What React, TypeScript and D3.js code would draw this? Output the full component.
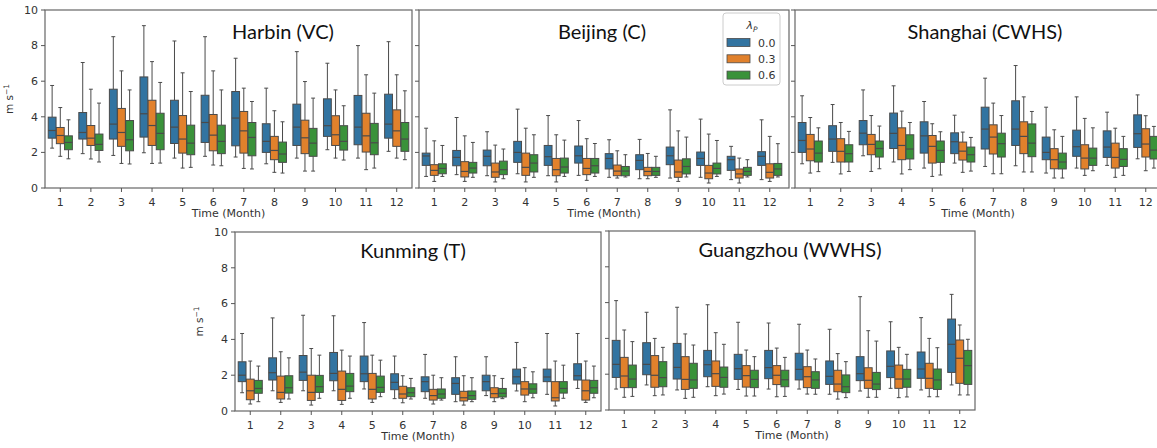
import React from "react";
import * as d3 from "d3";

const months = ["1", "2", "3", "4", "5", "6", "7", "8", "9", "10", "11", "12"];
const hues = ["0.0", "0.3", "0.6"];
const hueColors = ["#3274a1", "#e1812c", "#3a923a"];
const yTicks = [0, 2, 4, 6, 8, 10];

// each row: [lower whisker, Q1, median, Q3, upper whisker]
const harbin00 = [
  [2.24, 2.8, 3.23, 3.98, 5.76], [1.93, 2.75, 3.12, 4.24, 7.05], [1.83, 2.75, 3.59, 5.55, 8.5],
  [1.98, 2.86, 4.17, 6.24, 9.12], [1.68, 2.5, 3.42, 4.93, 8.26], [1.78, 2.56, 3.68, 5.21, 8.5],
  [1.74, 2.37, 3.93, 5.42, 7.29], [1.36, 2.0, 2.62, 3.61, 5.61], [1.68, 2.39, 3.42, 4.71, 7.66],
  [2.15, 2.9, 3.5, 5.01, 7.01], [1.68, 2.43, 3.42, 5.2, 8.0], [2.06, 2.8, 3.59, 5.27, 8.22],
];
const harbin03 = [
  [1.78, 2.49, 2.95, 3.4, 4.52], [1.63, 2.39, 2.8, 3.51, 5.55], [1.38, 2.34, 3.12, 4.47, 6.58],
  [1.38, 2.39, 3.51, 4.93, 7.1], [1.12, 1.96, 2.75, 4.07, 6.47], [1.29, 2.09, 2.97, 4.13, 6.58],
  [1.1, 1.96, 3.21, 4.3, 5.61], [0.88, 1.59, 2.11, 2.9, 4.34], [0.95, 1.93, 2.82, 3.81, 5.98],
  [1.68, 2.39, 2.99, 4.06, 5.51], [1.03, 2.02, 2.93, 4.2, 6.36], [1.68, 2.34, 3.21, 4.39, 6.36],
];
const harbin06 = [
  [1.64, 2.15, 2.56, 2.93, 3.83], [1.46, 2.11, 2.45, 3.03, 4.77], [1.35, 2.09, 2.71, 3.79, 5.51],
  [1.4, 2.15, 3.07, 4.2, 5.93], [1.16, 1.87, 2.52, 3.53, 5.42], [1.25, 1.93, 2.62, 3.53, 5.51],
  [1.07, 1.81, 2.84, 3.68, 4.86], [0.84, 1.44, 1.91, 2.58, 3.72], [0.95, 1.78, 2.52, 3.35, 5.05],
  [1.57, 2.13, 2.62, 3.5, 4.62], [1.12, 1.87, 2.54, 3.63, 5.33], [1.59, 2.06, 2.75, 3.68, 5.46],
];

const beijing00 = [
  [0.65, 1.27, 1.8, 1.96, 3.36], [0.75, 1.25, 1.72, 2.11, 3.96], [0.69, 1.25, 1.78, 2.13, 3.16],
  [0.8, 1.44, 2.0, 2.62, 4.43], [0.69, 1.27, 1.76, 2.39, 4.07], [0.71, 1.4, 1.81, 2.36, 3.79],
  [0.6, 1.07, 1.66, 1.93, 2.71], [0.52, 1.03, 1.55, 1.87, 2.73], [0.56, 1.31, 1.81, 2.3, 4.39],
  [0.6, 1.27, 1.66, 2.02, 3.87], [0.47, 0.99, 1.59, 1.78, 2.34], [0.47, 1.27, 1.78, 2.04, 3.83],
];
const beijing03 = [
  [0.37, 0.71, 0.99, 1.31, 2.65], [0.37, 0.62, 0.93, 1.48, 2.93], [0.34, 0.6, 0.9, 1.4, 2.41],
  [0.34, 0.71, 1.16, 1.96, 3.36], [0.34, 0.69, 1.03, 1.66, 2.99], [0.43, 0.75, 1.1, 1.66, 2.77],
  [0.56, 0.69, 0.95, 1.29, 2.09], [0.52, 0.69, 0.93, 1.16, 1.94], [0.37, 0.6, 0.9, 1.57, 3.21],
  [0.28, 0.52, 0.84, 1.27, 3.03], [0.28, 0.56, 0.79, 1.07, 1.68], [0.37, 0.56, 0.88, 1.36, 2.9],
];
const beijing06 = [
  [0.65, 0.8, 1.1, 1.36, 2.39], [0.6, 0.84, 1.12, 1.44, 2.56], [0.52, 0.75, 1.03, 1.51, 2.19],
  [0.6, 0.9, 1.4, 1.87, 2.99], [0.65, 0.84, 1.18, 1.68, 2.69], [0.65, 0.84, 1.25, 1.66, 2.5],
  [0.62, 0.69, 0.95, 1.21, 1.87], [0.6, 0.71, 0.93, 1.16, 1.78], [0.62, 0.79, 1.21, 1.64, 2.86],
  [0.65, 0.79, 1.1, 1.4, 2.67], [0.62, 0.71, 0.93, 1.16, 1.59], [0.62, 0.71, 1.07, 1.38, 2.49],
];

const shanghai00 = [
  [1.36, 2.0, 2.67, 3.68, 5.18], [1.44, 2.06, 2.75, 3.5, 4.69], [1.81, 2.43, 3.08, 3.79, 5.51],
  [1.46, 2.22, 3.07, 4.21, 5.74], [1.12, 1.96, 2.93, 3.72, 4.86], [1.4, 1.93, 2.6, 3.1, 4.09],
  [1.21, 2.19, 3.31, 4.54, 6.17], [1.25, 2.39, 3.31, 4.9, 6.88], [0.84, 1.59, 2.0, 2.86, 4.54],
  [1.12, 1.78, 2.32, 3.25, 5.12], [1.27, 1.72, 2.3, 3.21, 4.26], [1.64, 2.28, 3.05, 4.11, 5.23],
];
const shanghai03 = [
  [0.84, 1.53, 2.19, 3.01, 3.96], [0.79, 1.46, 2.06, 2.77, 3.68], [0.93, 1.87, 2.45, 3.01, 4.07],
  [0.79, 1.59, 2.39, 3.38, 4.32], [0.65, 1.4, 2.34, 2.95, 3.61], [0.88, 1.57, 2.07, 2.58, 3.14],
  [0.8, 1.91, 2.86, 3.55, 4.77], [0.9, 1.93, 2.9, 3.72, 5.12], [0.56, 1.08, 1.59, 2.21, 3.27],
  [0.71, 1.07, 1.68, 2.43, 3.91], [0.6, 1.12, 1.72, 2.52, 3.36], [0.97, 1.74, 2.47, 3.33, 4.06],
];
const shanghai06 = [
  [0.92, 1.46, 1.96, 2.64, 3.38], [0.93, 1.46, 1.93, 2.43, 3.18], [1.08, 1.74, 2.22, 2.64, 3.48],
  [1.03, 1.63, 2.19, 2.99, 3.68], [0.73, 1.44, 2.11, 2.64, 3.16], [0.95, 1.46, 1.87, 2.3, 2.84],
  [0.8, 1.74, 2.49, 3.08, 4.07], [0.9, 1.76, 2.52, 3.6, 4.3], [0.56, 1.07, 1.46, 1.96, 2.9],
  [0.97, 1.27, 1.68, 2.24, 3.38], [0.71, 1.21, 1.61, 2.21, 2.9], [1.12, 1.63, 2.13, 2.9, 3.46],
];

const kunming00 = [
  [1.02, 1.64, 2.0, 2.75, 4.33], [1.13, 1.73, 2.14, 2.97, 5.2], [1.13, 1.71, 2.17, 3.1, 5.35],
  [1.13, 1.69, 2.1, 3.27, 5.32], [1.23, 1.64, 2.08, 3.07, 4.94], [0.69, 1.19, 1.6, 2.08, 3.07],
  [0.71, 1.08, 1.64, 1.91, 3.16], [0.52, 0.93, 1.54, 1.86, 3.03], [0.86, 1.13, 1.64, 2.0, 3.03],
  [1.12, 1.51, 1.91, 2.34, 3.83], [0.93, 1.64, 1.9, 2.34, 4.33], [1.26, 1.73, 1.97, 2.64, 4.33],
];
const kunming03 = [
  [0.39, 0.63, 1.13, 1.78, 2.79], [0.48, 0.67, 1.04, 1.95, 3.31], [0.33, 0.59, 1.04, 2.0, 3.49],
  [0.37, 0.59, 1.21, 2.23, 3.4], [0.48, 0.67, 1.21, 2.1, 3.12], [0.46, 0.71, 0.95, 1.38, 1.97],
  [0.39, 0.61, 0.86, 1.21, 2.0], [0.33, 0.56, 0.74, 1.1, 1.97], [0.52, 0.74, 0.97, 1.3, 1.97],
  [0.52, 0.89, 1.23, 1.64, 2.42], [0.28, 0.56, 0.74, 1.64, 2.79], [0.48, 0.61, 1.13, 1.73, 2.79],
];
const kunming06 = [
  [0.52, 0.99, 1.26, 1.71, 2.51], [0.67, 1.0, 1.3, 1.97, 2.97], [0.71, 1.04, 1.36, 1.99, 3.12],
  [0.71, 1.08, 1.39, 2.1, 3.07], [0.8, 1.04, 1.32, 1.95, 2.84], [0.67, 0.8, 1.02, 1.3, 1.82],
  [0.61, 0.71, 0.95, 1.23, 1.86], [0.52, 0.65, 0.86, 1.12, 1.86], [0.69, 0.78, 0.99, 1.26, 1.82],
  [0.74, 0.99, 1.23, 1.52, 2.19], [0.71, 1.0, 1.26, 1.64, 2.56], [0.74, 0.99, 1.3, 1.71, 2.51],
];

const guangzhou00 = [
  [1.17, 1.82, 2.55, 3.89, 6.11], [1.4, 1.97, 2.55, 3.76, 5.46], [1.12, 1.73, 2.38, 3.72, 5.74],
  [1.3, 1.86, 2.53, 3.33, 5.88], [1.15, 1.71, 2.31, 3.11, 4.9], [1.17, 1.75, 2.37, 3.33, 4.86],
  [1.17, 1.68, 2.27, 3.17, 4.79], [0.88, 1.43, 1.88, 2.74, 4.51], [1.06, 1.64, 2.03, 2.98, 6.33],
  [1.21, 1.81, 2.44, 3.3, 4.93], [1.12, 1.77, 2.29, 3.24, 5.16], [1.4, 2.1, 3.67, 5.08, 6.46],
];
const guangzhou03 = [
  [0.71, 1.25, 1.9, 2.94, 4.47], [0.8, 1.27, 1.94, 3.04, 4.0], [0.65, 1.15, 1.71, 2.98, 4.25],
  [0.8, 1.32, 2.03, 2.74, 4.32], [0.78, 1.28, 1.92, 2.48, 3.35], [0.74, 1.42, 1.94, 2.48, 3.46],
  [0.89, 1.25, 1.86, 2.42, 3.35], [0.61, 1.02, 1.45, 2.22, 3.15], [0.71, 1.21, 1.66, 2.36, 4.43],
  [0.69, 1.21, 1.73, 2.51, 3.5], [0.74, 1.21, 1.77, 2.61, 4.0], [0.84, 1.49, 2.89, 3.91, 4.75],
];
const guangzhou06 = [
  [0.76, 1.25, 1.73, 2.51, 3.82], [0.84, 1.3, 1.81, 2.7, 3.5], [0.71, 1.21, 1.68, 2.61, 3.63],
  [0.89, 1.27, 1.82, 2.4, 3.67], [0.78, 1.25, 1.71, 2.22, 2.98], [0.76, 1.3, 1.69, 2.22, 2.94],
  [0.88, 1.21, 1.68, 2.14, 2.85], [0.69, 0.97, 1.3, 1.96, 2.7], [0.71, 1.14, 1.45, 2.1, 3.85],
  [0.73, 1.27, 1.73, 2.27, 3.11], [0.74, 1.15, 1.68, 2.29, 3.48], [0.84, 1.43, 2.48, 3.33, 3.95],
];

const panels = [
  { title: "Harbin (VC)", data: [harbin00, harbin03, harbin06], x0: 45, x1: 412, bx1: 412, y0: 10, y1: 188, tx: 283, ty: 39, yLabels: true, legend: false },
  { title: "Beijing (C)", data: [beijing00, beijing03, beijing06], x0: 419, x1: 789, bx1: 785, y0: 10, y1: 188, tx: 602, ty: 39, yLabels: false, legend: true },
  { title: "Shanghai (CWHS)", data: [shanghai00, shanghai03, shanghai06], x0: 795, x1: 1161, bx1: 1161, y0: 10, y1: 188, tx: 985, ty: 39, yLabels: false, legend: false },
  { title: "Kunming (T)", data: [kunming00, kunming03, kunming06], x0: 235, x1: 601, bx1: 601, y0: 232, y1: 411, tx: 413, ty: 258, yLabels: true, legend: false },
  { title: "Guangzhou (WWHS)", data: [guangzhou00, guangzhou03, guangzhou06], x0: 609, x1: 975, bx1: 975, y0: 231, y1: 410, tx: 790, ty: 257, yLabels: false, legend: false },
];

const LINE = "#4a4a4a";
const TXT = "#333";
const FONT = "'DejaVu Sans', sans-serif";

function Panel({ p }: { p: any }) {
  const x = d3.scaleBand().domain(months).range([p.x0, p.bx1]);
  const bw = x.bandwidth();
  const xh = d3.scaleBand().domain(hues).range([0.1 * bw, 0.9 * bw]);
  const boxW = xh.bandwidth() * 0.96;
  const y = d3.scaleLinear().domain([0, 10]).range([p.y1, p.y0]);
  const ymid = (p.y0 + p.y1) / 2;
  const xmid = (p.x0 + p.x1) / 2;
  return (
    <g>
      <rect x={p.x0} y={p.y0} width={p.x1 - p.x0} height={p.y1 - p.y0} fill="white" stroke="#666" strokeWidth={1.2} />
      {yTicks.map((t) => (
        <g key={"yt" + t}>
          <line x1={p.x0 - 4} x2={p.x0} y1={y(t)} y2={y(t)} stroke="#555" strokeWidth={1} />
          {p.yLabels && (
            <text x={p.x0 - 7} y={y(t)} dy="0.35em" textAnchor="end" fontSize={11} fill={TXT} fontFamily={FONT}>{t}</text>
          )}
        </g>
      ))}
      {p.yLabels && (
        <text transform={`translate(${p.x0 - 32},${ymid}) rotate(-90)`} textAnchor="middle" fontSize={10.5} fill={TXT} fontFamily={FONT}>
          m s<tspan dy="-4" fontSize={7.5}>−1</tspan>
        </text>
      )}
      {months.map((m) => (
        <g key={"xt" + m}>
          <line x1={x(m)! + bw / 2} x2={x(m)! + bw / 2} y1={p.y1} y2={p.y1 + 4} stroke="#555" strokeWidth={1} />
          <text x={x(m)! + bw / 2} y={p.y1 + 17.5} textAnchor="middle" fontSize={11} fill={TXT} fontFamily={FONT}>{m}</text>
        </g>
      ))}
      <text x={xmid} y={p.y1 + 29} textAnchor="middle" fontSize={11} fill={TXT} fontFamily={FONT}>Time (Month)</text>
      {p.data.map((series: number[][], hi: number) =>
        series.map((d, mi) => {
          const cx = x(months[mi])! + xh(hues[hi])! + xh.bandwidth() / 2;
          const [lo, q1, med, q3, up] = d;
          const capW = boxW / 2;
          return (
            <g key={`b${hi}-${mi}`}>
              <line x1={cx} x2={cx} y1={y(up)} y2={y(q3)} stroke={LINE} strokeWidth={1} />
              <line x1={cx} x2={cx} y1={y(q1)} y2={y(lo)} stroke={LINE} strokeWidth={1} />
              <line x1={cx - capW / 2} x2={cx + capW / 2} y1={y(up)} y2={y(up)} stroke={LINE} strokeWidth={1} />
              <line x1={cx - capW / 2} x2={cx + capW / 2} y1={y(lo)} y2={y(lo)} stroke={LINE} strokeWidth={1} />
              <rect x={cx - boxW / 2} y={y(q3)} width={boxW} height={y(q1) - y(q3)} fill={hueColors[hi]} stroke={LINE} strokeWidth={1} />
              <line x1={cx - boxW / 2} x2={cx + boxW / 2} y1={y(med)} y2={y(med)} stroke={LINE} strokeWidth={1.2} />
            </g>
          );
        })
      )}
      <text x={p.tx} y={p.ty} textAnchor="middle" fontSize={20} fill="#111" fontFamily="Lato, 'Open Sans', sans-serif">{p.title}</text>
      {p.legend && (
        <g>
          <rect x={723} y={13} width={57} height={72} rx={3} fill="white" stroke="#ccc" strokeWidth={1} />
          <text x={752} y={29} textAnchor="middle" fontSize={11} fill={TXT} fontFamily={FONT} fontStyle="italic">
            λ<tspan dy="3" fontSize={7.5}>P</tspan>
          </text>
          {hues.map((h, i) => (
            <g key={"lg" + h}>
              <rect x={727} y={38.5 + i * 16.3} width={23} height={8} fill={hueColors[i]} stroke={LINE} strokeWidth={0.8} />
              <text x={758} y={46.5 + i * 16.3} fontSize={11} fill={TXT} fontFamily={FONT}>{h}</text>
            </g>
          ))}
        </g>
      )}
    </g>
  );
}

export default function App() {
  return (
    <svg width={1157} height={448} style={{ position: "absolute", left: 0, top: 0, background: "white" }}>
      {panels.map((p) => (
        <Panel key={p.title} p={p} />
      ))}
    </svg>
  );
}
